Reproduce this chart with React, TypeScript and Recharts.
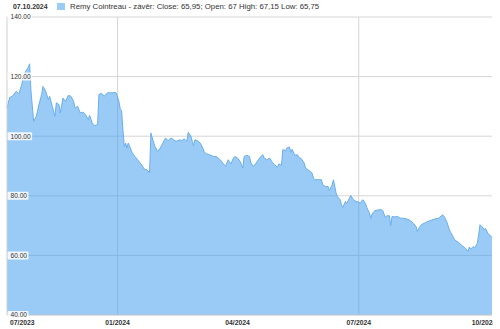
import { AreaChart, Area, XAxis, YAxis, CartesianGrid } from 'recharts';

// day offsets from the first session of the window (09.10.2023)
const days = [
  0, 2, 4, 7, 9, 11, 12, 14, 16, 17, 18, 20, 22, 24, 26, 27, 29, 31, 32, 34, 36, 37, 39, 40, 42, 44, 46, 48, 50, 51,
  53, 55, 57, 59, 61, 62, 64, 66, 68, 69, 71, 73, 74, 76, 78, 81, 82, 84, 85, 86, 87, 88, 89, 90, 91, 93, 94, 96, 98,
  101, 103, 105, 107, 108, 109, 111, 113, 115, 117, 119, 121, 123, 125, 127, 130, 131, 133, 135, 136, 138, 140, 141,
  143, 145, 147, 148, 150, 152, 155, 157, 160, 162, 164, 166, 168, 170, 171, 173, 175, 177, 178, 180, 182, 183, 185,
  187, 190, 192, 193, 195, 197, 199, 201, 203, 204, 206, 207, 209, 210, 212, 213, 214, 216, 218, 219, 221, 223, 224,
  226, 227, 229, 230, 231, 234, 236, 237, 239, 241, 242, 244, 245, 247, 248, 250, 251, 252, 254, 255, 257, 258, 260,
  262, 264, 265, 267, 269, 270, 272, 273, 274, 276, 279, 281, 282, 284, 285, 287, 288, 289, 291, 293, 295, 297, 300,
  302, 305, 307, 308, 309, 311, 314, 316, 319, 321, 324, 326, 327, 328, 330, 332, 334, 336, 339, 341, 344, 346, 347,
  348, 350, 351, 353, 354, 355, 357, 358, 359, 361, 363, 364,
];

const close = [
  109.5, 113.0, 113.4, 115.1, 114.2, 117.3, 119.3, 121.8, 123.1, 124.3, 115.1, 105.0, 106.7, 110.6, 114.0, 116.7, 115.1,
  112.3, 113.4, 110.0, 106.7, 111.2, 110.6, 107.8, 112.8, 111.7, 113.7, 113.4, 111.7, 109.5, 110.0, 107.8, 108.1, 107.2,
  105.6, 107.0, 104.4, 103.5, 103.9, 114.0, 114.4, 113.4, 114.0, 114.7, 114.5, 114.7, 114.5, 111.7, 109.1, 108.7, 102.2,
  96.6, 97.7, 96.0, 97.7, 95.5, 94.4, 93.2, 92.1, 90.4, 89.0, 88.7, 87.8, 101.1, 99.4, 96.6, 94.9, 96.0, 97.7, 99.4,
  98.5, 99.4, 98.8, 98.3, 98.8, 98.5, 99.1, 98.3, 101.3, 100.0, 96.8, 98.8, 98.5, 97.7, 96.0, 94.7, 94.0, 93.8, 93.2,
  93.2, 92.1, 91.0, 89.9, 92.1, 90.7, 92.7, 93.2, 92.7, 91.5, 89.3, 93.2, 93.6, 93.2, 91.0, 89.9, 91.0, 92.9, 93.8,
  92.7, 92.1, 92.7, 91.3, 90.4, 89.5, 90.7, 90.2, 95.5, 95.1, 96.0, 96.4, 94.6, 95.6, 93.6, 93.8, 92.9, 92.4, 91.0,
  89.3, 88.7, 88.4, 87.6, 85.9, 85.4, 85.4, 85.4, 83.7, 83.1, 83.1, 81.7, 83.7, 85.4, 80.9, 79.8, 78.7, 77.0, 76.1,
  78.1, 77.5, 79.2, 80.1, 78.7, 78.1, 77.9, 77.5, 78.7, 77.5, 76.1, 74.2, 72.5, 73.9, 75.0, 75.3, 75.3, 75.0, 72.7,
  73.3, 73.3, 70.0, 73.1, 72.9, 73.1, 72.5, 72.5, 72.2, 71.9, 70.8, 69.7, 68.0, 69.1, 70.3, 71.0, 71.4, 71.9, 72.2,
  72.5, 73.3, 73.6, 73.1, 71.4, 68.6, 66.9, 65.2, 64.3, 63.5, 62.4, 61.3, 62.8, 62.1, 63.0, 62.4, 64.1, 66.9, 70.3,
  69.4, 68.6, 69.1, 67.4, 66.5, 65.95,
];

const monthTicks = [0, 83, 173, 264, 358];
const monthLabels = ['07/2023', '01/2024', '04/2024', '07/2024', '10/2024'];
const gridMonths = [83, 264];
const priceTicks = [40, 60, 80, 100, 120, 140];

const data = days.map((d, i) => ({ day: d, close: close[i] }));

const FONT = 'Arial, "Liberation Sans", sans-serif';

function MonthTick(props: any) {
  const { x, y, payload, index } = props;
  const label = monthLabels[monthTicks.indexOf(payload.value)] ?? '';
  const first = index === 0;
  return (
    <text
      x={first ? x + 3 : x}
      y={y + 2}
      textAnchor={first ? 'start' : 'middle'}
      fontSize={6.8}
      fontWeight="bold"
      fontFamily={FONT}
      fill="#333"
    >
      {label}
    </text>
  );
}

function PriceTick(props: any) {
  const { y, payload } = props;
  const label = Number(payload.value).toFixed(2);
  const w = label.length * 3.6 + 3;
  return (
    <g>
      <rect x={7.5} y={y - 4} width={w} height={8} rx={1} fill="#ffffff" fillOpacity={0.85} />
      <text x={10.5} y={y + 2.4} fontSize={6.6} fontFamily={FONT} fill="#333">
        {label}
      </text>
    </g>
  );
}

export default function App() {
  return (
    <div style={{ position: 'absolute', left: 0, top: 0, width: 500, height: 329, background: '#fff' }}>
      <div
        style={{
          position: 'absolute',
          left: 13,
          top: 1,
          height: 10,
          display: 'flex',
          alignItems: 'center',
          fontFamily: FONT,
          fontSize: 7.8,
          color: '#333',
          whiteSpace: 'nowrap',
        }}
      >
        <span style={{ fontWeight: 'bold', fontSize: 6.9, width: 44 }}>07.10.2024</span>
        <span style={{ display: 'inline-block', width: 8, height: 7, background: '#99ccf6', marginRight: 5 }} />
        <span>Remy Cointreau - závěr: Close: 65,95; Open: 67 High: 67,15 Low: 65,75</span>
      </div>
      <AreaChart width={493} height={329} data={data} margin={{ top: 17, right: 1, bottom: 0, left: 7 }}>
        <CartesianGrid stroke="#d6d6d6" strokeWidth={1} verticalValues={gridMonths} horizontalValues={priceTicks} />
        <XAxis
          dataKey="day"
          type="number"
          domain={[0, 364]}
          ticks={monthTicks}
          interval={0}
          tick={<MonthTick />}
          tickLine={false}
          axisLine={{ stroke: '#cfcfcf' }}
          height={14}
        />
        <Area
          type="linear"
          dataKey="close"
          stroke="#6aaeec"
          strokeWidth={1}
          fill="#3c9cee"
          fillOpacity={0.52}
          isAnimationActive={false}
          dot={false}
          activeDot={false}
        />
        <YAxis
          domain={[40, 140]}
          ticks={priceTicks}
          mirror
          width={30}
          tick={<PriceTick />}
          tickLine={false}
          axisLine={{ stroke: '#cfcfcf' }}
          interval={0}
        />
      </AreaChart>
    </div>
  );
}
